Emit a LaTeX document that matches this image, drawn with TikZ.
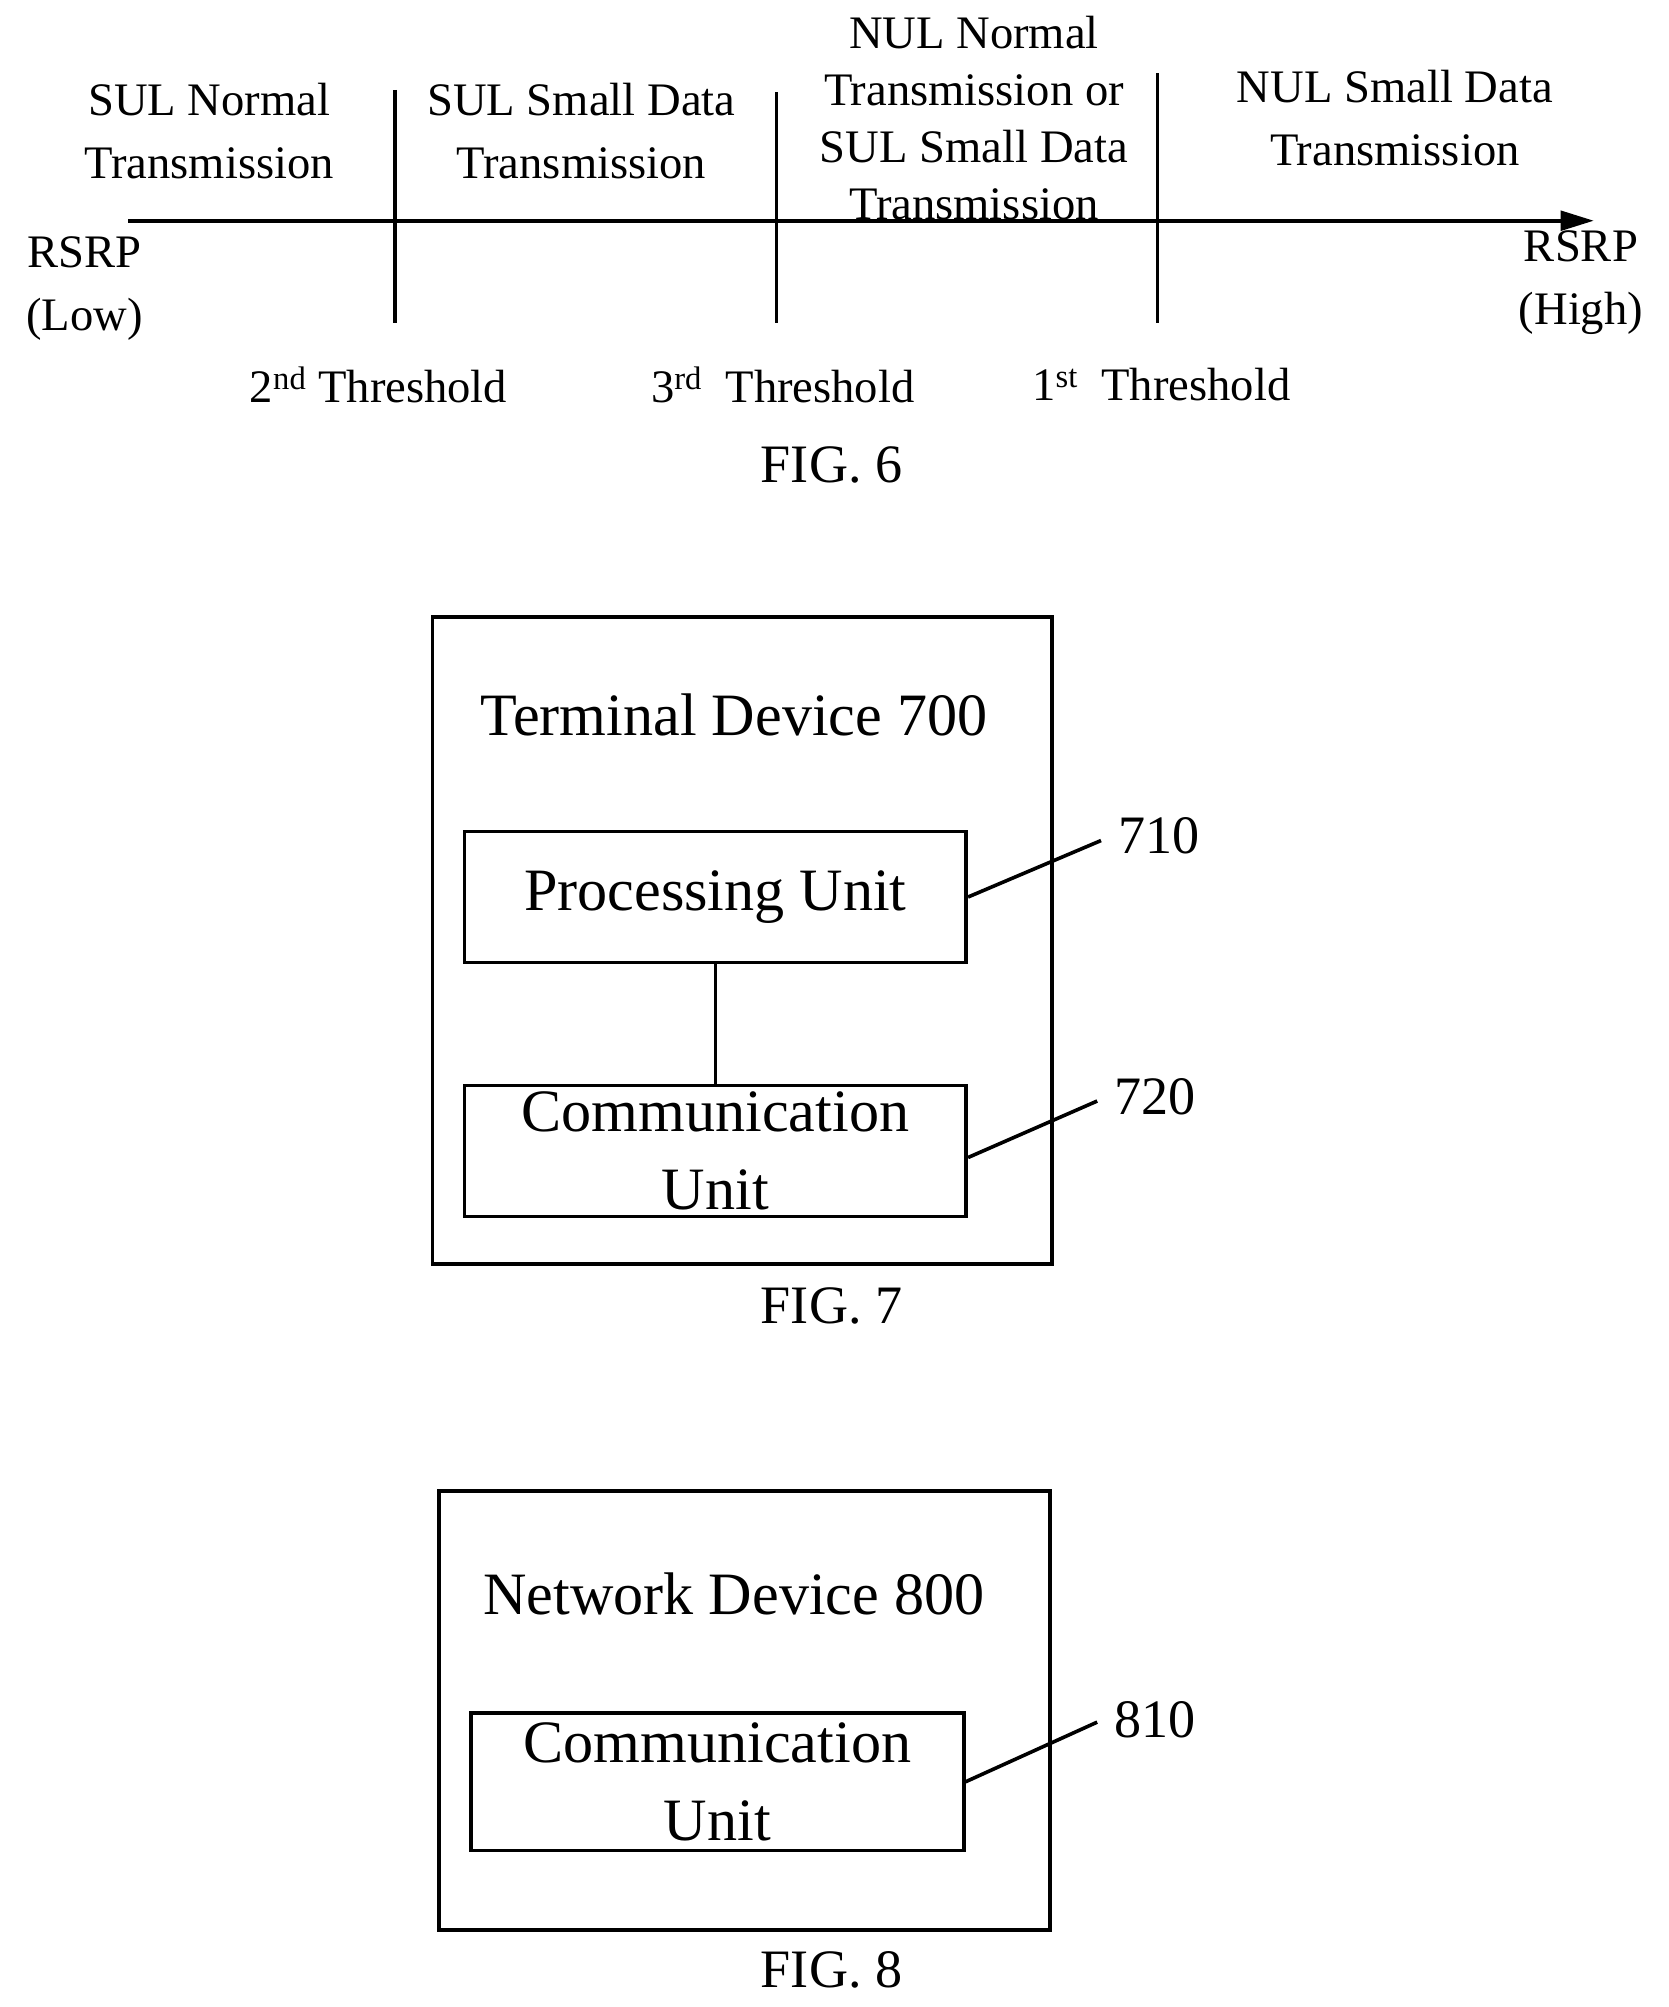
\documentclass[tikz,border=0pt]{standalone}
\usepackage{fontspec}
\setmainfont{Liberation Serif}
\usetikzlibrary{arrows.meta}
\begin{document}
\begin{tikzpicture}[x=0.03cm,y=-0.03cm,line width=2.4pt,
  lab/.style={align=center,font=\fontsize{31}{42}\selectfont,inner sep=0pt},
  big/.style={align=center,font=\fontsize{40}{55}\selectfont,inner sep=0pt},
  box/.style={draw,line width=2.4pt}]
\useasboundingbox (0,0) rectangle (1300,1564);
% FIG 6
\coordinate (a0) at (100,172); \coordinate (a1) at (1242,172);
\draw[-{Triangle[length=22pt,width=13pt]}] (a0) -- (a1);
\coordinate (v1t) at (308,70); \coordinate (v1b) at (308,252);
\coordinate (v2t) at (605,72); \coordinate (v2b) at (605,252);
\coordinate (v3t) at (902,57); \coordinate (v3b) at (902,252);
\draw (v1t)--(v1b); \draw (v2t)--(v2b); \draw (v3t)--(v3b);
\node[lab] (t1) at (163,102) {SUL Normal\\Transmission};
\node[lab] (t2) at (453,102) {SUL Small Data\\Transmission};
\node[lab,font=\fontsize{31}{38}\selectfont] (t3) at (759,92) {NUL Normal\\Transmission or\\SUL Small Data\\Transmission};
\node[lab] (t4) at (1087,92) {NUL Small Data\\Transmission};
\node[lab] (lo) at (66,225) {RSRP\\(Low)};
\node[lab] (hi) at (1232,220) {RSRP\\(High)};
\node[lab] (th2) at (295,300) {2\textsuperscript{nd} Threshold};
\node[lab] (th3) at (610,300) {3\textsuperscript{rd}\ \ Threshold};
\node[lab] (th1) at (905,300) {1\textsuperscript{st}\ \ Threshold};
\node[lab,font=\fontsize{36}{42}\selectfont] (f6) at (648,362) {FIG. 6};
% FIG 7
\draw[box] (337,481) rectangle (820,985);
\node[big] (td) at (572,557) {Terminal Device 700};
\node[box,minimum width=391*0.03cm,minimum height=102*0.03cm,big] (pu) at (557.5,699) {Processing Unit};
\node[box,minimum width=391*0.03cm,minimum height=102*0.03cm,big,font=\fontsize{40}{52}\selectfont] (cu) at (557.5,897) {Communication\\Unit};
\draw (pu.south) -- (cu.north);
\coordinate (l1) at (858,655); \coordinate (l2) at (855,858);
\draw (pu.east) -- (l1); \draw ([yshift=-0.15cm]cu.east) -- (l2);
\node[lab,font=\fontsize{36}{42}\selectfont] (n710) at (903,651) {710};
\node[lab,font=\fontsize{36}{42}\selectfont] (n720) at (900,855) {720};
\node[lab,font=\fontsize{36}{42}\selectfont] (f7) at (648,1018) {FIG. 7};
% FIG 8
\draw[box] (342,1162) rectangle (818,1504);
\node[big] (nd) at (572,1242) {Network Device 800};
\node[box,minimum width=384*0.03cm,minimum height=107*0.03cm,big,font=\fontsize{40}{52}\selectfont] (cu8) at (559,1388.5) {Communication\\Unit};
\coordinate (l3) at (855,1342);
\draw (cu8.east) -- (l3);
\node[lab,font=\fontsize{36}{42}\selectfont] (n810) at (900,1340) {810};
\node[lab,font=\fontsize{36}{42}\selectfont] (f8) at (648,1535) {FIG. 8};
\end{tikzpicture}
\end{document}
